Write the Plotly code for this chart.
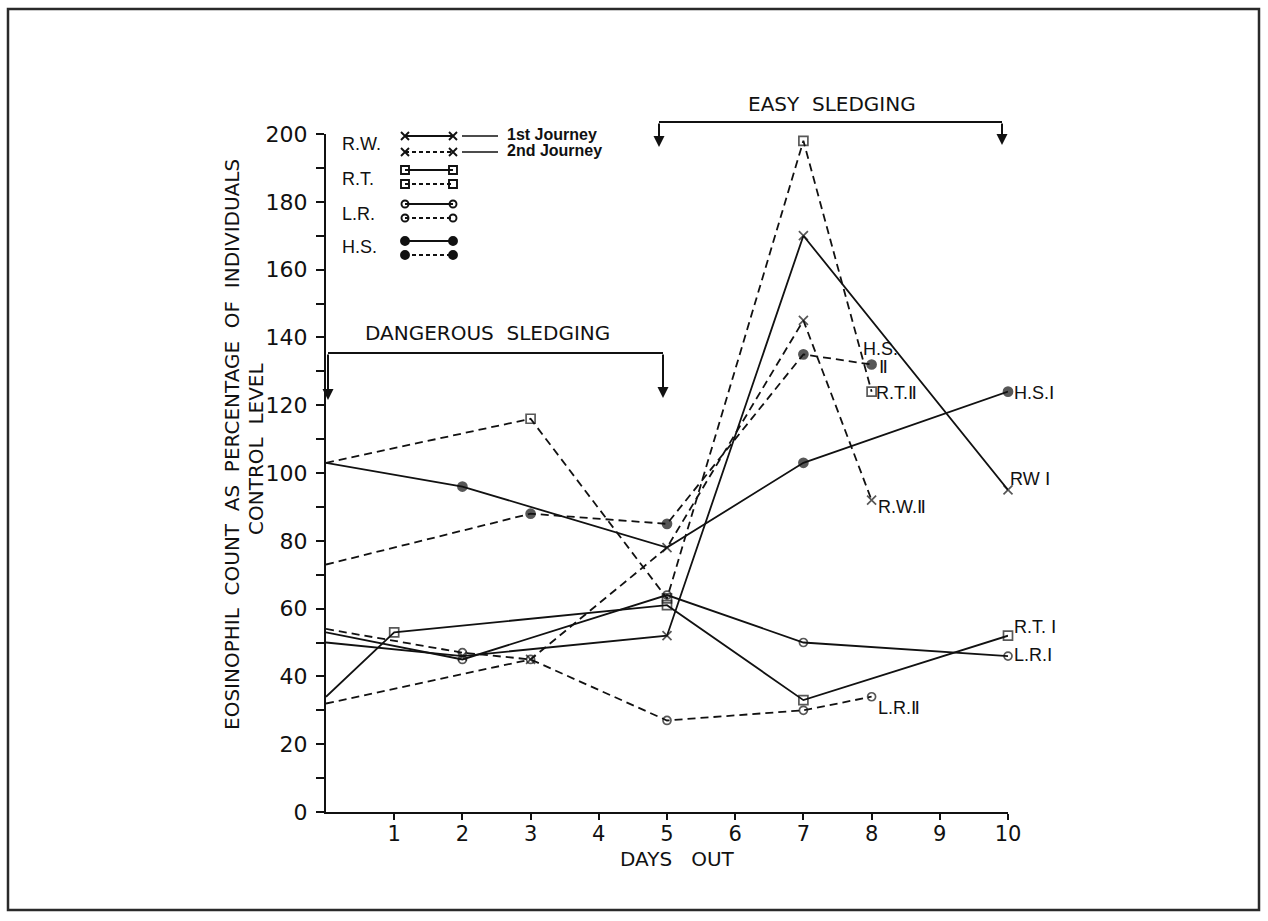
import plotly.graph_objects as go

# ---------------- data ----------------
days_RW1 = [0, 2, 5, 7, 10]
RW1 = [50, 46, 52, 170, 95]
days_RW2 = [0, 3, 5, 7, 8]
RW2 = [32, 45, 78, 145, 92]

days_RT1 = [0, 1, 5, 7, 10]
RT1 = [34, 53, 61, 33, 52]
days_RT2 = [0, 3, 5, 7, 8]
RT2 = [103, 116, 63, 198, 124]

days_LR1 = [0, 2, 5, 7, 10]
LR1 = [53, 45, 64, 50, 46]
days_LR2 = [0, 2, 3, 5, 7, 8]
LR2 = [54, 47, 45, 27, 30, 34]

days_HS1 = [0, 2, 5, 7, 10]
HS1 = [103, 96, 78, 103, 124]
days_HS2 = [0, 3, 5, 7, 8]
HS2 = [73, 88, 85, 135, 132]

x_ticks = [1, 2, 3, 4, 5, 6, 7, 8, 9, 10]
y_ticks = [0, 20, 40, 60, 80, 100, 120, 140, 160, 180, 200]
people = ["R.W.", "R.T.", "L.R.", "H.S."]

# ---------------- geometry ----------------
W, H = 1268, 921
ML, MR, MT, MB = 326, 260, 134, 109
PW, PH = W - ML - MR, H - MT - MB
X_MAX, Y_MAX = 10, 200


def fx(px):
    return (px - ML) / PW


def fy(py):
    return (H - MB - py) / PH


def dx(px):
    return fx(px) * X_MAX


def dy(py):
    return fy(py) * Y_MAX


FONT = "DejaVu Sans"
NARROW = "Liberation Sans Narrow, Liberation Sans, Arial Narrow, sans-serif"
INK = "#111111"
DASH_MAIN = "8px,5px"
DASH_KEY = "4px,3px"

sym = {"R.W.": "x-thin", "R.T.": "square-open", "L.R.": "circle-open", "H.S.": "circle"}
msize = {"R.W.": 9, "R.T.": 9, "L.R.": 8, "H.S.": 9}

series = [
    ("R.W.", 1, days_RW1, RW1),
    ("R.W.", 2, days_RW2, RW2),
    ("R.T.", 1, days_RT1, RT1),
    ("R.T.", 2, days_RT2, RT2),
    ("L.R.", 1, days_LR1, LR1),
    ("L.R.", 2, days_LR2, LR2),
    ("H.S.", 1, days_HS1, HS1),
    ("H.S.", 2, days_HS2, HS2),
]

fig = go.Figure()

for person, journey, xs, ys in series:
    sizes = [0 if d == 0 else msize[person] for d in xs]
    if person == "H.S." and journey == 1:
        sizes = [0 if d in (0, 5) else msize[person] for d in xs]
    fig.add_trace(go.Scatter(
        x=xs, y=ys, mode="lines+markers",
        line=dict(color=INK, width=1.8, dash="solid" if journey == 1 else DASH_MAIN),
        marker=dict(symbol=sym[person], size=sizes, color=INK,
                    line=dict(color=INK, width=1.7)),
        cliponaxis=False, showlegend=False,
        name=f"{person} {'I' * journey}",
    ))

# ---------------- hand-drawn key (top-left) ----------------
key_rows_px = {"R.W.": (136, 152), "R.T.": (170, 184), "L.R.": (204, 218), "H.S.": (241, 255)}
key_label_px = {"R.W.": 144, "R.T.": 179, "L.R.": 214, "H.S.": 247}
key_x = [dx(405), dx(453)]
annotations = []
shapes = []
for person in people:
    for j, rpy in enumerate(key_rows_px[person]):
        fig.add_trace(go.Scatter(
            x=key_x, y=[dy(rpy), dy(rpy)], mode="lines+markers",
            line=dict(color=INK, width=1.8, dash="solid" if j == 0 else DASH_KEY),
            marker=dict(symbol=sym[person], size=msize[person] - 1, color=INK,
                        line=dict(color=INK, width=1.9)),
            cliponaxis=False, showlegend=False, hoverinfo="skip",
        ))
    annotations.append(dict(
        x=fx(340), y=fy(key_label_px[person]), xref="paper", yref="paper",
        text=person, showarrow=False, xanchor="left", yanchor="middle",
        font=dict(family="Liberation Sans", size=18, color=INK)))

for py, txt in [(136, "1st Journey"), (152, "2nd Journey")]:
    shapes.append(dict(type="line", xref="paper", yref="paper",
                       x0=fx(462), x1=fx(498), y0=fy(py), y1=fy(py),
                       line=dict(color=INK, width=1.3)))
    annotations.append(dict(
        x=fx(505), y=fy(py - 1), xref="paper", yref="paper", text=f"<b>{txt}</b>",
        showarrow=False, xanchor="left", yanchor="middle",
        font=dict(family=NARROW, size=16, color=INK)))

# ---------------- series labels ----------------
series_labels = [
    ("R.T. Ⅰ", 1012, 627),
    ("L.R.Ⅰ", 1012, 655),
    ("L.R.Ⅱ", 876, 708),
    ("R.W.Ⅱ", 876, 507),
    ("RW Ⅰ", 1008, 479),
    ("H.S.Ⅰ", 1012, 393),
    ("R.T.Ⅱ", 874, 393),
    ("H.S.", 861, 349),
    ("Ⅱ", 877, 367),
]
for txt, px, py in series_labels:
    annotations.append(dict(
        x=fx(px), y=fy(py), xref="paper", yref="paper", text=txt,
        showarrow=False, xanchor="left", yanchor="middle",
        font=dict(family=NARROW, size=18, color=INK)))

# ---------------- sledging brackets ----------------
def bracket(x0, x1, ytop, tip0, tip1, label, label_x, label_y):
    shapes.append(dict(type="line", xref="paper", yref="paper",
                       x0=fx(x0), x1=fx(x1), y0=fy(ytop), y1=fy(ytop),
                       line=dict(color=INK, width=2)))
    for xx, tip in [(x0, tip0), (x1, tip1)]:
        annotations.append(dict(
            x=fx(xx), y=fy(tip), xref="paper", yref="paper", text="",
            showarrow=True, ax=0, ay=-(tip - ytop), axref="pixel", ayref="pixel",
            arrowhead=2, arrowsize=1.1, arrowwidth=2, arrowcolor=INK, standoff=0))
    annotations.append(dict(
        x=fx(label_x), y=fy(label_y), xref="paper", yref="paper",
        text=label, showarrow=False, xanchor="center", yanchor="middle",
        font=dict(family=FONT, size=20, color=INK)))


bracket(659, 1002, 122, 147, 145, "EASY  SLEDGING", 832, 104)
bracket(328, 663, 353, 400, 398, "DANGEROUS  SLEDGING", 487, 333)

# ---------------- axis titles ----------------
annotations.append(dict(
    x=fx(677), y=fy(859), xref="paper", yref="paper", text="DAYS   OUT",
    showarrow=False, xanchor="center", yanchor="middle",
    font=dict(family=FONT, size=20, color=INK)))
annotations.append(dict(
    x=fx(232), y=fy(445), xref="paper", yref="paper",
    text="EOSINOPHIL  COUNT  AS  PERCENTAGE  OF  INDIVIDUALS",
    showarrow=False, textangle=-90, xanchor="center", yanchor="middle",
    font=dict(family=FONT, size=20, color=INK)))
annotations.append(dict(
    x=fx(256), y=fy(449), xref="paper", yref="paper", text="CONTROL  LEVEL",
    showarrow=False, textangle=-90, xanchor="center", yanchor="middle",
    font=dict(family=FONT, size=20, color=INK)))

# ---------------- card border ----------------
shapes.append(dict(type="rect", xref="paper", yref="paper",
                   x0=fx(8), x1=fx(1259), y0=fy(910), y1=fy(9),
                   line=dict(color="#2a2a2a", width=2.5), layer="below"))

fig.update_layout(
    width=W, height=H, autosize=False,
    margin=dict(l=ML, r=MR, t=MT, b=MB, pad=0),
    paper_bgcolor="white", plot_bgcolor="white",
    showlegend=False,
    font=dict(family=FONT, color=INK),
    annotations=annotations, shapes=shapes,
    xaxis=dict(range=[0, X_MAX], tickvals=x_ticks, ticktext=[str(v) for v in x_ticks],
               showline=True, linecolor=INK, linewidth=2, ticks="outside",
               ticklen=6, tickwidth=2, tickcolor=INK, showgrid=False, zeroline=False,
               tickfont=dict(family=FONT, size=21, color=INK), fixedrange=True,
               ticklabelstandoff=-4),
    yaxis=dict(range=[0, Y_MAX], tickvals=y_ticks, ticktext=[str(v) for v in y_ticks],
               showline=True, linecolor=INK, linewidth=2, ticks="outside",
               ticklen=8, tickwidth=2, tickcolor=INK, showgrid=False, zeroline=False,
               tickfont=dict(family=FONT, size=22, color=INK), fixedrange=True,
               ticklabelstandoff=4,
               minor=dict(ticks="outside", ticklen=8, tickwidth=2, tickcolor=INK,
                          dtick=10, showgrid=False)),
)

fig.write_html("out.html")
